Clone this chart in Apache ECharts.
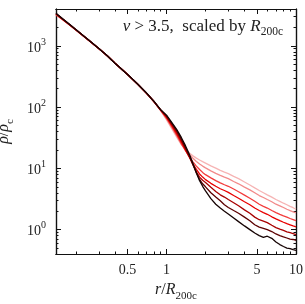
<!DOCTYPE html>
<html>
<head>
<meta charset="utf-8">
<script src="https://cdn.jsdelivr.net/npm/echarts@6/dist/echarts.min.js"></script>
<style>html,body{margin:0;padding:0;background:#fff}#c{width:305px;height:304px}</style>
</head>
<body>
<div id="c"></div>
<script>
// radius grid r / R200c
const radius = [0.14,0.16,0.18,0.2,0.25,0.3,0.35,0.4,0.5,0.6,0.7,0.8,0.9,
  1.0,1.1,1.2,1.3,1.4,1.5,1.6,1.7,1.8,1.9,2.0,2.2,2.4,2.6,2.8,3.0,3.3,3.6,4.0,4.4,4.8,5.2,5.6,6.0,6.5,7.0,7.5,8.0,8.5,9.0,9.5,10.0];
// shared inner profile (r < 1)
const inner1 = [3200,2600,2150,1800,1230,900,680,520,340,235,168,122,88];
const inner7 = [3400,2700,2210,1840,1250,905,685,522,340,236,170,124,91];
// outer parts (r >= 1), lightest -> darkest
const outer1 = [62,44,32,24.5,20.5,17.8,16,14.7,13.7,12.9,12.2,11.0,10.1,9.3,8.7,8.2,7.4,6.8,6.0,5.35,4.8,4.35,4.0,3.7,3.4,3.1,2.9,2.7,2.55,2.4,2.28,2.15];
const outer2 = [64,46,34,25,20,16.8,14.6,13.0,11.8,10.9,10.2,9.1,8.3,7.7,7.2,6.8,6.1,5.6,4.95,4.45,4.0,3.6,3.35,3.1,2.85,2.6,2.45,2.3,2.15,2.05,1.95,1.87];
const outer3 = [66,48,35,25.5,19.5,15.5,12.8,10.9,9.6,8.6,7.9,7.0,6.3,5.8,5.4,5.1,4.6,4.15,3.65,3.25,2.9,2.6,2.4,2.25,2.05,1.9,1.78,1.68,1.6,1.52,1.46,1.40];
const outer4 = [68,50,37,27,20,15.2,11.8,9.6,8.1,7.2,6.55,5.7,5.1,4.65,4.35,4.05,3.6,3.25,2.85,2.55,2.25,2.05,1.9,1.78,1.62,1.5,1.4,1.32,1.25,1.2,1.15,1.11];
const outer5 = [70,52,39,28.5,21,15.5,11.5,8.8,7.2,6.4,5.9,4.9,4.2,3.7,3.4,3.1,2.75,2.45,2.1,1.85,1.6,1.45,1.38,1.3,1.18,1.08,1.02,0.97,0.92,0.89,0.86,0.83];
const outer6 = [72,54,41,30,22,16,11.5,8.4,6.6,5.6,5.0,4.0,3.4,2.95,2.55,2.3,2.05,1.85,1.6,1.4,1.2,1.1,1.05,1.0,0.93,0.85,0.8,0.76,0.73,0.7,0.69,0.67];
const outer7 = [74,56,43,32,23.5,17,12,8.5,6.3,5.1,4.3,3.2,2.6,2.25,2.0,1.8,1.55,1.35,1.15,1.0,0.88,0.8,0.75,0.78,0.72,0.63,0.57,0.53,0.5,0.49,0.47,0.46];
const curveColors = ['#f6b4b4','#f28a8a','#f23c3c','#e80000','#a80000','#5c0000','#160404'];
const xLabels = [0.5,1,5,10];
const yLabels = [1,10,100,1000];
const xMinor = [0.2,0.3,0.4,0.6,0.7,0.8,0.9,2,3,4,6,7,8,9];
const yMinor = [0.5,0.6,0.7,0.8,0.9,2,3,4,5,6,7,8,9,20,30,40,50,60,70,80,90,200,300,400,500,600,700,800,900,2000,3000];

const outers = [outer1,outer2,outer3,outer4,outer5,outer6,outer7];
function innerFor(k){ // blend of inner profiles
  const t = k/6;
  return inner1.map((v,i)=>v*(1-t)+inner7[i]*t);
}
const series = outers.map((o,k)=>{
  const vals = innerFor(k).concat(o);
  return {type:'line', xAxisIndex:0, yAxisIndex:0, showSymbol:false, silent:true,
    lineStyle:{color:curveColors[k], width:1.3}, z: 2+k,
    data: radius.map((r,i)=>[r, vals[i]])};
});

const XMIN=0.14, XMAX=10, YMIN=0.4, YMAX=4000;
const serif = 'Liberation Serif';
const tickMajor = 5, tickMinor = 2.5;
function xa(pos, labels, minor){
  return {type:'log', position:pos, min:XMIN, max:XMAX, logBase:10,
    axisLine:{show:true, onZero:false, lineStyle:{color:'#111', width:1.2}},
    splitLine:{show:false}, minorTick:{show:false},
    axisTick:{show:true, inside:true, length: minor?tickMinor:tickMajor, lineStyle:{color:'#111', width:1},
      customValues: minor ? xMinor : xLabels},
    axisLabel:{show:labels, customValues:xLabels, margin:9, color:'#222', fontFamily:serif, fontSize:14,
      formatter:(v)=>String(v)}};
}
function ya(pos, labels, minor){
  return {type:'log', position:pos, min:YMIN, max:YMAX, logBase:10,
    axisLine:{show:true, onZero:false, lineStyle:{color:'#111', width:1.2}},
    splitLine:{show:false}, minorTick:{show:false},
    axisTick:{show:true, inside:true, length: minor?tickMinor:tickMajor, lineStyle:{color:'#111', width:1},
      customValues: minor ? yMinor : yLabels},
    axisLabel:{show:labels, customValues:yLabels, margin:10, color:'#222', fontFamily:serif,
      formatter:(v)=>'{b|10}{s|'+Math.round(Math.log10(v))+'}',
      rich:{b:{fontFamily:serif,fontSize:14,color:'#222',lineHeight:18,verticalAlign:'bottom'},
            s:{fontFamily:serif,fontSize:10,color:'#222',verticalAlign:'top',lineHeight:18}}}};
}
const xAxes = [xa('bottom',true,false), xa('bottom',false,true), xa('top',false,false), xa('top',false,true)];
const yAxes = [ya('left',true,false), ya('left',false,true), ya('right',false,false), ya('right',false,true)];
const nameRich = {
  i:{fontFamily:serif,fontStyle:'italic',fontWeight:'normal',fontSize:16,color:'#222',lineHeight:20,verticalAlign:'top'},
  n:{fontFamily:serif,fontWeight:'normal',fontSize:16,color:'#222',lineHeight:20,verticalAlign:'top'},
  s:{fontFamily:serif,fontWeight:'normal',fontSize:11,color:'#222',lineHeight:20,verticalAlign:'bottom'}};
xAxes[0].name = '{i|r}{n|/}{i|R}{s|200c}';
xAxes[0].nameLocation = 'middle';
xAxes[0].nameGap = 26;
xAxes[0].nameTextStyle = {rich:nameRich};
yAxes[0].name = '{i|ρ}{n|/}{i|ρ}{s|c}';
yAxes[0].nameLocation = 'middle';
yAxes[0].nameGap = 32;
yAxes[0].nameTextStyle = {rich:nameRich};

const chart = echarts.init(document.getElementById('c'), null, {renderer:'canvas'});
chart.setOption({
  animation:false,
  backgroundColor:'#fff',
  grid:{left:56, right:9, top:9, bottom:50, containLabel:false, outerBoundsMode:'none'},
  title:{text:'{i|ν}{a| > 3.5,  scaled by }{i|R}{s|200c}', right:17, top:13,
    textStyle:{fontWeight:'normal', rich:{
      a:{fontFamily:serif,fontWeight:'normal',fontSize:17,color:'#222',lineHeight:20,verticalAlign:'top'},
      i:{fontFamily:serif,fontStyle:'italic',fontWeight:'normal',fontSize:17,color:'#222',lineHeight:20,verticalAlign:'top'},
      s:{fontFamily:serif,fontWeight:'normal',fontSize:11.5,color:'#222',lineHeight:20,verticalAlign:'bottom'}}}},
  xAxis:xAxes,
  yAxis:yAxes,
  series:series
});
</script>
</body>
</html>
